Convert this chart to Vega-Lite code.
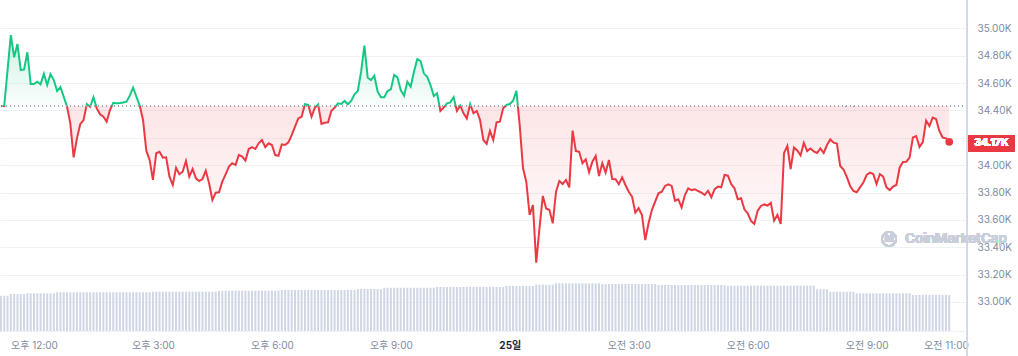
{
"$schema":"https://vega.github.io/schema/vega-lite/v6.json",
"width":967,"height":331,
"autosize":{"type":"none"},
"padding":{"left":0,"top":0,"right":51,"bottom":25},
"background":"white",
"config":{"view":{"stroke":null},"font":"Inter, 'Noto Sans CJK KR', sans-serif","scale":{"continuousPadding":0}},
"data":{"values":[
{"t":"2023-10-24T11:10","p":34432,"v":32.0},{"t":"2023-10-24T11:15","p":34432,"v":32.0},{"t":"2023-10-24T11:20","p":34695,"v":32.0},{"t":"2023-10-24T11:25","p":34951,"v":33.5},{"t":"2023-10-24T11:30","p":34788,"v":33.5},{"t":"2023-10-24T11:35","p":34885,"v":33.5},{"t":"2023-10-24T11:40","p":34695,"v":33.5},{"t":"2023-10-24T11:45","p":34700,"v":33.5},{"t":"2023-10-24T11:50","p":34825,"v":34.2},{"t":"2023-10-24T11:55","p":34593,"v":34.2},
{"t":"2023-10-24T12:00","p":34593,"v":34.2},{"t":"2023-10-24T12:05","p":34610,"v":34.2},{"t":"2023-10-24T12:10","p":34591,"v":34.2},{"t":"2023-10-24T12:15","p":34668,"v":34.2},{"t":"2023-10-24T12:20","p":34586,"v":34.2},{"t":"2023-10-24T12:25","p":34666,"v":34.2},{"t":"2023-10-24T12:30","p":34622,"v":34.2},{"t":"2023-10-24T12:35","p":34542,"v":35.1},{"t":"2023-10-24T12:40","p":34571,"v":35.1},{"t":"2023-10-24T12:45","p":34500,"v":35.1},{"t":"2023-10-24T12:50","p":34427,"v":35.1},{"t":"2023-10-24T12:55","p":34306,"v":35.1},
{"t":"2023-10-24T13:00","p":34057,"v":35.1},{"t":"2023-10-24T13:05","p":34196,"v":35.1},{"t":"2023-10-24T13:10","p":34299,"v":35.1},{"t":"2023-10-24T13:15","p":34330,"v":35.1},{"t":"2023-10-24T13:20","p":34447,"v":35.1},{"t":"2023-10-24T13:25","p":34427,"v":35.1},{"t":"2023-10-24T13:30","p":34496,"v":35.1},{"t":"2023-10-24T13:35","p":34415,"v":35.1},{"t":"2023-10-24T13:40","p":34372,"v":35.1},{"t":"2023-10-24T13:45","p":34354,"v":35.1},{"t":"2023-10-24T13:50","p":34318,"v":35.1},{"t":"2023-10-24T13:55","p":34403,"v":35.1},
{"t":"2023-10-24T14:00","p":34456,"v":35.1},{"t":"2023-10-24T14:05","p":34452,"v":35.1},{"t":"2023-10-24T14:10","p":34454,"v":35.1},{"t":"2023-10-24T14:15","p":34458,"v":35.1},{"t":"2023-10-24T14:20","p":34464,"v":35.1},{"t":"2023-10-24T14:25","p":34508,"v":35.1},{"t":"2023-10-24T14:30","p":34566,"v":35.1},{"t":"2023-10-24T14:35","p":34500,"v":35.1},{"t":"2023-10-24T14:40","p":34435,"v":35.1},{"t":"2023-10-24T14:45","p":34330,"v":35.1},{"t":"2023-10-24T14:50","p":34106,"v":35.1},{"t":"2023-10-24T14:55","p":34038,"v":35.1},
{"t":"2023-10-24T15:00","p":33892,"v":35.6},{"t":"2023-10-24T15:05","p":34087,"v":35.6},{"t":"2023-10-24T15:10","p":34098,"v":35.6},{"t":"2023-10-24T15:15","p":34054,"v":35.6},{"t":"2023-10-24T15:20","p":34057,"v":35.6},{"t":"2023-10-24T15:25","p":33916,"v":35.6},{"t":"2023-10-24T15:30","p":33855,"v":35.6},{"t":"2023-10-24T15:35","p":33981,"v":35.6},{"t":"2023-10-24T15:40","p":33933,"v":35.6},{"t":"2023-10-24T15:45","p":33952,"v":35.6},{"t":"2023-10-24T15:50","p":34030,"v":35.6},{"t":"2023-10-24T15:55","p":33916,"v":35.6},
{"t":"2023-10-24T16:00","p":33972,"v":35.6},{"t":"2023-10-24T16:05","p":33904,"v":35.6},{"t":"2023-10-24T16:10","p":33884,"v":35.6},{"t":"2023-10-24T16:15","p":33899,"v":35.6},{"t":"2023-10-24T16:20","p":33960,"v":35.6},{"t":"2023-10-24T16:25","p":33867,"v":35.6},{"t":"2023-10-24T16:30","p":33745,"v":35.6},{"t":"2023-10-24T16:35","p":33799,"v":35.6},{"t":"2023-10-24T16:40","p":33802,"v":36.5},{"t":"2023-10-24T16:45","p":33879,"v":36.5},{"t":"2023-10-24T16:50","p":33933,"v":36.5},{"t":"2023-10-24T16:55","p":33989,"v":36.5},
{"t":"2023-10-24T17:00","p":34014,"v":36.5},{"t":"2023-10-24T17:05","p":34001,"v":36.5},{"t":"2023-10-24T17:10","p":34074,"v":36.5},{"t":"2023-10-24T17:15","p":34062,"v":36.5},{"t":"2023-10-24T17:20","p":34033,"v":36.5},{"t":"2023-10-24T17:25","p":34118,"v":36.5},{"t":"2023-10-24T17:30","p":34131,"v":36.5},{"t":"2023-10-24T17:35","p":34118,"v":36.5},{"t":"2023-10-24T17:40","p":34160,"v":36.5},{"t":"2023-10-24T17:45","p":34184,"v":36.5},{"t":"2023-10-24T17:50","p":34131,"v":36.5},{"t":"2023-10-24T17:55","p":34160,"v":36.5},
{"t":"2023-10-24T18:00","p":34147,"v":36.5},{"t":"2023-10-24T18:05","p":34074,"v":36.5},{"t":"2023-10-24T18:10","p":34069,"v":36.5},{"t":"2023-10-24T18:15","p":34152,"v":37.2},{"t":"2023-10-24T18:20","p":34147,"v":37.2},{"t":"2023-10-24T18:25","p":34167,"v":37.2},{"t":"2023-10-24T18:30","p":34220,"v":37.2},{"t":"2023-10-24T18:35","p":34281,"v":37.2},{"t":"2023-10-24T18:40","p":34342,"v":37.2},{"t":"2023-10-24T18:45","p":34354,"v":37.2},{"t":"2023-10-24T18:50","p":34445,"v":37.2},{"t":"2023-10-24T18:55","p":34440,"v":37.2},
{"t":"2023-10-24T19:00","p":34354,"v":37.2},{"t":"2023-10-24T19:05","p":34420,"v":37.2},{"t":"2023-10-24T19:10","p":34445,"v":37.2},{"t":"2023-10-24T19:15","p":34301,"v":37.2},{"t":"2023-10-24T19:20","p":34310,"v":37.2},{"t":"2023-10-24T19:25","p":34313,"v":37.2},{"t":"2023-10-24T19:30","p":34396,"v":37.2},{"t":"2023-10-24T19:35","p":34420,"v":37.2},{"t":"2023-10-24T19:40","p":34452,"v":37.2},{"t":"2023-10-24T19:45","p":34447,"v":37.2},{"t":"2023-10-24T19:50","p":34469,"v":37.2},{"t":"2023-10-24T19:55","p":34445,"v":37.2},
{"t":"2023-10-24T20:00","p":34469,"v":37.2},{"t":"2023-10-24T20:05","p":34518,"v":37.2},{"t":"2023-10-24T20:10","p":34542,"v":38.1},{"t":"2023-10-24T20:15","p":34683,"v":38.1},{"t":"2023-10-24T20:20","p":34873,"v":38.1},{"t":"2023-10-24T20:25","p":34639,"v":38.1},{"t":"2023-10-24T20:30","p":34622,"v":38.1},{"t":"2023-10-24T20:35","p":34654,"v":38.1},{"t":"2023-10-24T20:40","p":34537,"v":38.1},{"t":"2023-10-24T20:45","p":34496,"v":38.1},{"t":"2023-10-24T20:50","p":34496,"v":39.2},{"t":"2023-10-24T20:55","p":34542,"v":39.2},
{"t":"2023-10-24T21:00","p":34554,"v":39.2},{"t":"2023-10-24T21:05","p":34659,"v":39.2},{"t":"2023-10-24T21:10","p":34642,"v":39.2},{"t":"2023-10-24T21:15","p":34549,"v":39.2},{"t":"2023-10-24T21:20","p":34508,"v":39.2},{"t":"2023-10-24T21:25","p":34610,"v":39.2},{"t":"2023-10-24T21:30","p":34573,"v":39.2},{"t":"2023-10-24T21:35","p":34683,"v":39.2},{"t":"2023-10-24T21:40","p":34776,"v":39.2},{"t":"2023-10-24T21:45","p":34761,"v":39.2},{"t":"2023-10-24T21:50","p":34671,"v":39.2},{"t":"2023-10-24T21:55","p":34646,"v":39.2},
{"t":"2023-10-24T22:00","p":34586,"v":39.2},{"t":"2023-10-24T22:05","p":34505,"v":39.2},{"t":"2023-10-24T22:10","p":34525,"v":39.9},{"t":"2023-10-24T22:15","p":34396,"v":39.9},{"t":"2023-10-24T22:20","p":34420,"v":39.9},{"t":"2023-10-24T22:25","p":34452,"v":39.9},{"t":"2023-10-24T22:30","p":34459,"v":39.9},{"t":"2023-10-24T22:35","p":34496,"v":39.9},{"t":"2023-10-24T22:40","p":34396,"v":39.9},{"t":"2023-10-24T22:45","p":34435,"v":39.9},{"t":"2023-10-24T22:50","p":34379,"v":39.9},{"t":"2023-10-24T22:55","p":34342,"v":39.9},
{"t":"2023-10-24T23:00","p":34447,"v":39.9},{"t":"2023-10-24T23:05","p":34379,"v":39.9},{"t":"2023-10-24T23:10","p":34396,"v":39.9},{"t":"2023-10-24T23:15","p":34330,"v":39.9},{"t":"2023-10-24T23:20","p":34184,"v":39.9},{"t":"2023-10-24T23:25","p":34155,"v":39.9},{"t":"2023-10-24T23:30","p":34250,"v":39.9},{"t":"2023-10-24T23:35","p":34184,"v":39.9},{"t":"2023-10-24T23:40","p":34313,"v":39.9},{"t":"2023-10-24T23:45","p":34318,"v":39.9},{"t":"2023-10-24T23:50","p":34415,"v":39.9},{"t":"2023-10-24T23:55","p":34440,"v":40.8},
{"t":"2023-10-25T00:00","p":34447,"v":40.8},{"t":"2023-10-25T00:05","p":34471,"v":40.8},{"t":"2023-10-25T00:10","p":34544,"v":40.8},{"t":"2023-10-25T00:15","p":34293,"v":40.8},{"t":"2023-10-25T00:20","p":33979,"v":40.8},{"t":"2023-10-25T00:25","p":33877,"v":40.8},{"t":"2023-10-25T00:30","p":33636,"v":40.8},{"t":"2023-10-25T00:35","p":33709,"v":40.8},{"t":"2023-10-25T00:40","p":33287,"v":42.0},{"t":"2023-10-25T00:45","p":33541,"v":42.0},{"t":"2023-10-25T00:50","p":33775,"v":42.0},{"t":"2023-10-25T00:55","p":33683,"v":42.0},
{"t":"2023-10-25T01:00","p":33672,"v":42.0},{"t":"2023-10-25T01:05","p":33575,"v":42.0},{"t":"2023-10-25T01:10","p":33806,"v":43.2},{"t":"2023-10-25T01:15","p":33884,"v":43.2},{"t":"2023-10-25T01:20","p":33862,"v":43.2},{"t":"2023-10-25T01:25","p":33892,"v":43.2},{"t":"2023-10-25T01:30","p":33838,"v":43.2},{"t":"2023-10-25T01:35","p":34252,"v":43.2},{"t":"2023-10-25T01:40","p":34103,"v":43.2},{"t":"2023-10-25T01:45","p":34098,"v":43.2},{"t":"2023-10-25T01:50","p":34014,"v":43.2},{"t":"2023-10-25T01:55","p":34043,"v":43.2},
{"t":"2023-10-25T02:00","p":33948,"v":43.2},{"t":"2023-10-25T02:05","p":34025,"v":43.2},{"t":"2023-10-25T02:10","p":34067,"v":43.2},{"t":"2023-10-25T02:15","p":33921,"v":43.2},{"t":"2023-10-25T02:20","p":34014,"v":42.6},{"t":"2023-10-25T02:25","p":33945,"v":42.6},{"t":"2023-10-25T02:30","p":34038,"v":42.6},{"t":"2023-10-25T02:35","p":33899,"v":42.6},{"t":"2023-10-25T02:40","p":33897,"v":42.6},{"t":"2023-10-25T02:45","p":33860,"v":42.6},{"t":"2023-10-25T02:50","p":33911,"v":42.6},{"t":"2023-10-25T02:55","p":33855,"v":42.6},
{"t":"2023-10-25T03:00","p":33806,"v":42.6},{"t":"2023-10-25T03:05","p":33770,"v":42.6},{"t":"2023-10-25T03:10","p":33653,"v":42.6},{"t":"2023-10-25T03:15","p":33685,"v":42.6},{"t":"2023-10-25T03:20","p":33636,"v":42.6},{"t":"2023-10-25T03:25","p":33453,"v":42.6},{"t":"2023-10-25T03:30","p":33575,"v":42.6},{"t":"2023-10-25T03:35","p":33672,"v":42.6},{"t":"2023-10-25T03:40","p":33733,"v":42.6},{"t":"2023-10-25T03:45","p":33794,"v":41.7},{"t":"2023-10-25T03:50","p":33806,"v":41.7},{"t":"2023-10-25T03:55","p":33848,"v":41.7},
{"t":"2023-10-25T04:00","p":33860,"v":41.7},{"t":"2023-10-25T04:05","p":33848,"v":41.7},{"t":"2023-10-25T04:10","p":33740,"v":41.7},{"t":"2023-10-25T04:15","p":33751,"v":41.7},{"t":"2023-10-25T04:20","p":33692,"v":41.7},{"t":"2023-10-25T04:25","p":33782,"v":41.7},{"t":"2023-10-25T04:30","p":33831,"v":41.7},{"t":"2023-10-25T04:35","p":33818,"v":41.7},{"t":"2023-10-25T04:40","p":33824,"v":41.7},{"t":"2023-10-25T04:45","p":33811,"v":41.7},{"t":"2023-10-25T04:50","p":33799,"v":41.7},{"t":"2023-10-25T04:55","p":33782,"v":41.7},
{"t":"2023-10-25T05:00","p":33813,"v":41.7},{"t":"2023-10-25T05:05","p":33765,"v":41.7},{"t":"2023-10-25T05:10","p":33824,"v":41.7},{"t":"2023-10-25T05:15","p":33843,"v":41.7},{"t":"2023-10-25T05:20","p":33838,"v":41.7},{"t":"2023-10-25T05:25","p":33928,"v":41.7},{"t":"2023-10-25T05:30","p":33923,"v":41.1},{"t":"2023-10-25T05:35","p":33862,"v":41.1},{"t":"2023-10-25T05:40","p":33831,"v":41.1},{"t":"2023-10-25T05:45","p":33751,"v":41.1},{"t":"2023-10-25T05:50","p":33758,"v":41.1},{"t":"2023-10-25T05:55","p":33677,"v":41.1},
{"t":"2023-10-25T06:00","p":33648,"v":41.1},{"t":"2023-10-25T06:05","p":33592,"v":41.1},{"t":"2023-10-25T06:10","p":33570,"v":41.1},{"t":"2023-10-25T06:15","p":33665,"v":41.1},{"t":"2023-10-25T06:20","p":33702,"v":41.1},{"t":"2023-10-25T06:25","p":33713,"v":41.1},{"t":"2023-10-25T06:30","p":33705,"v":41.1},{"t":"2023-10-25T06:35","p":33724,"v":41.1},{"t":"2023-10-25T06:40","p":33594,"v":41.1},{"t":"2023-10-25T06:45","p":33636,"v":41.1},{"t":"2023-10-25T06:50","p":33570,"v":41.1},{"t":"2023-10-25T06:55","p":34089,"v":41.1},
{"t":"2023-10-25T07:00","p":34140,"v":41.1},{"t":"2023-10-25T07:05","p":33972,"v":41.1},{"t":"2023-10-25T07:10","p":34129,"v":41.1},{"t":"2023-10-25T07:15","p":34107,"v":41.1},{"t":"2023-10-25T07:20","p":34071,"v":41.1},{"t":"2023-10-25T07:25","p":34162,"v":41.1},{"t":"2023-10-25T07:30","p":34103,"v":41.1},{"t":"2023-10-25T07:35","p":34122,"v":41.1},{"t":"2023-10-25T07:40","p":34100,"v":41.1},{"t":"2023-10-25T07:45","p":34089,"v":37.8},{"t":"2023-10-25T07:50","p":34122,"v":37.8},{"t":"2023-10-25T07:55","p":34089,"v":37.8},
{"t":"2023-10-25T08:00","p":34147,"v":37.8},{"t":"2023-10-25T08:05","p":34188,"v":35.6},{"t":"2023-10-25T08:10","p":34164,"v":35.6},{"t":"2023-10-25T08:15","p":34158,"v":35.6},{"t":"2023-10-25T08:20","p":33994,"v":35.6},{"t":"2023-10-25T08:25","p":33968,"v":35.6},{"t":"2023-10-25T08:30","p":33914,"v":35.6},{"t":"2023-10-25T08:35","p":33848,"v":35.6},{"t":"2023-10-25T08:40","p":33811,"v":35.6},{"t":"2023-10-25T08:45","p":33802,"v":34.2},{"t":"2023-10-25T08:50","p":33838,"v":34.2},{"t":"2023-10-25T08:55","p":33873,"v":34.2},
{"t":"2023-10-25T09:00","p":33928,"v":34.2},{"t":"2023-10-25T09:05","p":33945,"v":34.2},{"t":"2023-10-25T09:10","p":33935,"v":34.2},{"t":"2023-10-25T09:15","p":33862,"v":34.2},{"t":"2023-10-25T09:20","p":33935,"v":34.2},{"t":"2023-10-25T09:25","p":33916,"v":34.2},{"t":"2023-10-25T09:30","p":33838,"v":34.2},{"t":"2023-10-25T09:35","p":33818,"v":34.2},{"t":"2023-10-25T09:40","p":33843,"v":34.2},{"t":"2023-10-25T09:45","p":33855,"v":34.2},{"t":"2023-10-25T09:50","p":33983,"v":34.2},{"t":"2023-10-25T09:55","p":34023,"v":34.2},
{"t":"2023-10-25T10:00","p":34025,"v":34.2},{"t":"2023-10-25T10:05","p":34056,"v":34.2},{"t":"2023-10-25T10:10","p":34202,"v":32.6},{"t":"2023-10-25T10:15","p":34213,"v":32.6},{"t":"2023-10-25T10:20","p":34133,"v":32.6},{"t":"2023-10-25T10:25","p":34169,"v":32.6},{"t":"2023-10-25T10:30","p":34326,"v":32.6},{"t":"2023-10-25T10:35","p":34286,"v":32.6},{"t":"2023-10-25T10:40","p":34348,"v":32.6},{"t":"2023-10-25T10:45","p":34337,"v":32.6},{"t":"2023-10-25T10:50","p":34250,"v":32.6},{"t":"2023-10-25T10:55","p":34202,"v":32.6},
{"t":"2023-10-25T11:00","p":34196,"v":32.6},{"t":"2023-10-25T11:05","p":34171,"v":32.6}
]},
"layer":[
{"mark":{"type":"bar","width":2,"color":"#cfd6e4"},
 "encoding":{
  "x":{"field":"t","type":"temporal","scale":{"domain":[{"year":2023,"month":10,"date":24,"hours":11,"minutes":8,"seconds":35},{"year":2023,"month":10,"date":25,"hours":11,"minutes":31,"seconds":52}],"padding":0},
   "axis":{"title":null,"grid":false,"ticks":false,"domain":true,"domainColor":"#cfd6e4","domainDash":[1,2],"labelFontSize":10,"labelPadding":9,"labelOverlap":false,"tickCount":30,
    "labelColor":{"condition":{"test":"hours(datum.value) == 0","value":"#222531"},"value":"#808a9d"},
    "labelFontWeight":{"condition":{"test":"hours(datum.value) == 0","value":"bold"},"value":"normal"},
    "values":[{"year":2023,"month":10,"date":24,"hours":12},{"year":2023,"month":10,"date":24,"hours":15},{"year":2023,"month":10,"date":24,"hours":18},{"year":2023,"month":10,"date":24,"hours":21},{"year":2023,"month":10,"date":25,"hours":0},{"year":2023,"month":10,"date":25,"hours":3},{"year":2023,"month":10,"date":25,"hours":6},{"year":2023,"month":10,"date":25,"hours":9},{"year":2023,"month":10,"date":25,"hours":11}],
    "labelExpr":"hours(datum.value) == 0 ? '25일' : (hours(datum.value) < 12 ? '오전 ' : '오후 ') + (hours(datum.value) % 12 == 0 ? 12 : hours(datum.value) % 12) + ':00'"}},
  "y":{"field":"v","type":"quantitative","scale":{"domain":[0,300]},"axis":null}}},
{"layer":[
 {"mark":{"type":"area","line":false,"fill":{"gradient":"linear","x1":0,"y1":0,"x2":0,"y2":1,"stops":[{"offset":0,"color":"rgba(22,199,132,0.22)"},{"offset":0.3119,"color":"rgba(22,199,132,0.02)"},{"offset":0.3119,"color":"rgba(234,57,67,0.13)"},{"offset":1,"color":"rgba(234,57,67,0.0)"}]}},
  "encoding":{
   "x":{"field":"t","type":"temporal"},
   "y":{"field":"p","type":"quantitative","scale":{"domain":[32788,35207],"nice":false,"zero":false},
    "axis":{"orient":"right","title":null,"ticks":false,"domain":false,"grid":true,"gridColor":"#eff2f5","labelColor":"#808a9d","labelFontSize":10,"labelPadding":10,"labelAlign":"left","labelOverlap":false,"tickCount":30,
     "values":[33000,33200,33400,33600,33800,34000,34200,34400,34600,34800,35000],
     "labelExpr":"datum.value == 34200 ? '' : format(datum.value/1000, '.2f') + 'K'"}},
   "y2":{"datum":34432}}},
 {"mark":{"type":"line","strokeWidth":2,"stroke":{"gradient":"linear","x1":0,"y1":0,"x2":0,"y2":1,"stops":[{"offset":0,"color":"#16c784"},{"offset":0.3119,"color":"#16c784"},{"offset":0.3119,"color":"#ea3943"},{"offset":1,"color":"#ea3943"}]}},
  "encoding":{
   "x":{"field":"t","type":"temporal"},
   "y":{"field":"p","type":"quantitative"}}},
 {"data":{"values":[{"t":"2023-10-25T11:05","p":34171}]},
  "mark":{"type":"circle","size":60,"color":"#ea3943","opacity":1},
  "encoding":{"x":{"field":"t","type":"temporal"},"y":{"field":"p","type":"quantitative"}}}
 ]},
{"layer":[
 {"mark":{"type":"rule","strokeDash":[1,3],"color":"#9ea6b5","strokeWidth":1},
  "encoding":{"y":{"datum":34432,"type":"quantitative","scale":{"domain":[32788,35207],"nice":false,"zero":false},"axis":null}}},
 {"mark":{"type":"rule","color":"#cfd6e4","strokeWidth":1},
  "encoding":{"x":{"datum":{"year":2023,"month":10,"date":25,"hours":11,"minutes":32,"seconds":30},"type":"temporal"},"y":{"datum":35207,"type":"quantitative","axis":null},"y2":{"datum":32605}}},
 {"mark":{"type":"rect","color":"#ea3943","cornerRadius":1},
  "encoding":{"x":{"datum":{"year":2023,"month":10,"date":25,"hours":11,"minutes":33,"seconds":51},"type":"temporal"},"x2":{"datum":{"year":2023,"month":10,"date":25,"hours":12,"minutes":43,"seconds":27}},
   "y":{"datum":34220,"type":"quantitative","axis":null},"y2":{"datum":34098}}},
 {"mark":{"type":"text","color":"white","fontWeight":"bold","fontSize":10.5,"align":"center","baseline":"middle"},
  "encoding":{"x":{"datum":{"year":2023,"month":10,"date":25,"hours":12,"minutes":8,"seconds":40},"type":"temporal"},"y":{"datum":34159,"type":"quantitative","axis":null},"text":{"value":"34.17K"}}},
 {"mark":{"type":"point","shape":"circle","filled":false,"size":200,"stroke":"#c8cfda","strokeWidth":1.8},
  "encoding":{"x":{"datum":{"year":2023,"month":10,"date":25,"hours":9,"minutes":33,"seconds":53},"type":"temporal"},"y":{"datum":33460,"type":"quantitative","axis":null}}},
 {"mark":{"type":"text","color":"#c8cfda","fontSize":10,"fontWeight":"bold","align":"center","baseline":"middle"},
  "encoding":{"x":{"datum":{"year":2023,"month":10,"date":25,"hours":9,"minutes":33,"seconds":53},"type":"temporal"},"y":{"datum":33460,"type":"quantitative","axis":null},"text":{"value":"M"}}},
 {"mark":{"type":"text","color":"#c8cfda","fontSize":13.5,"fontWeight":600,"align":"left","baseline":"middle"},
  "encoding":{"x":{"datum":{"year":2023,"month":10,"date":25,"hours":9,"minutes":58,"seconds":5},"type":"temporal"},"y":{"datum":33460,"type":"quantitative","axis":null},"text":{"value":"CoinMarketCap"}}}
 ]}
],
"resolve":{"scale":{"y":"independent"}}
}
